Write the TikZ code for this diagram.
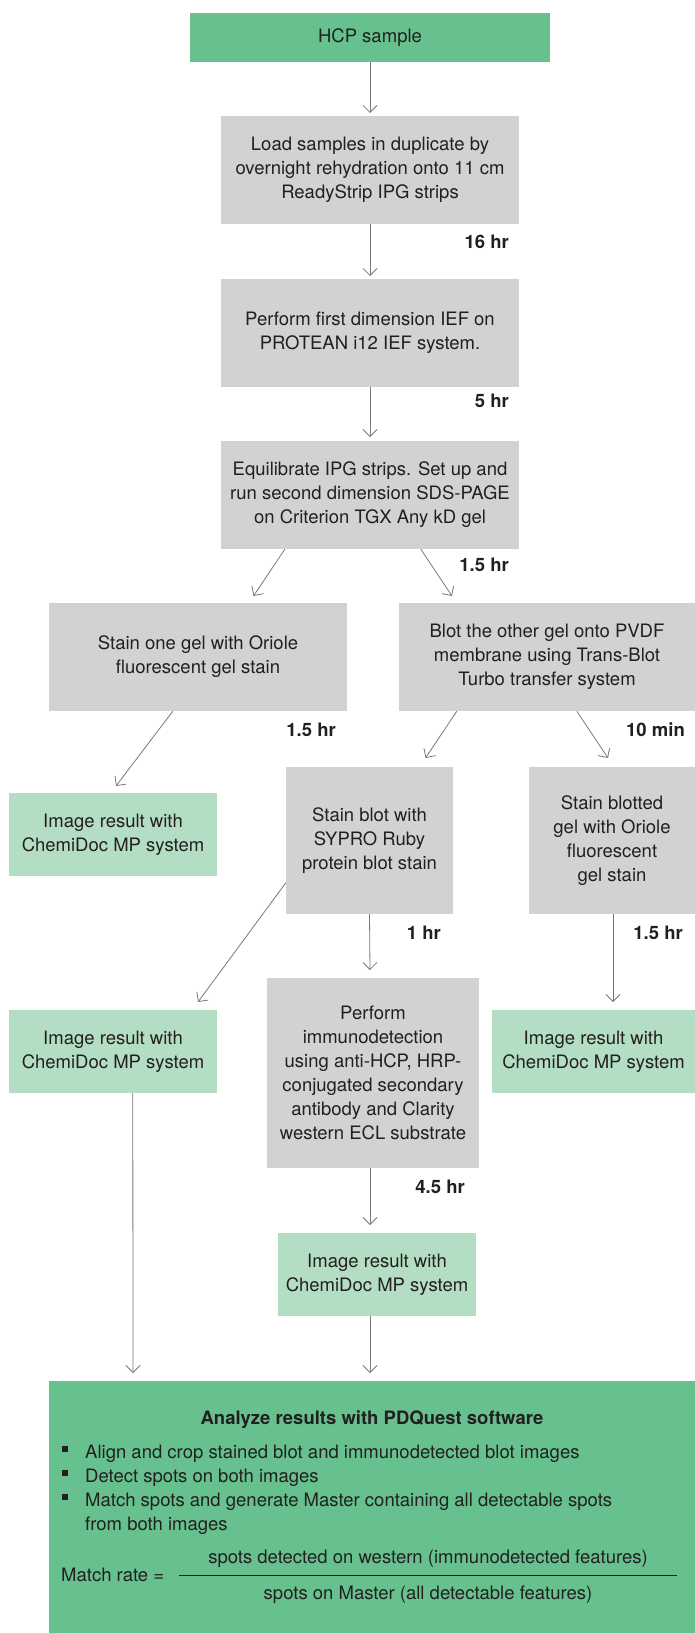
\documentclass[tikz,border=0pt]{standalone}
\usepackage{fontspec}
\setmainfont{TeX Gyre Heros}
\usetikzlibrary{arrows.meta,calc}
\definecolor{dgreen}{RGB}{102,193,142}
\definecolor{lgreen}{RGB}{179,222,195}
\definecolor{boxgray}{RGB}{209,210,212}
\definecolor{txt}{RGB}{35,31,32}
\definecolor{arrgray}{RGB}{120,120,120}
\begin{document}
\begin{tikzpicture}[x=1pt,y=-1pt,
  box/.style={rectangle, inner sep=0pt, align=center, text=txt, font=\fontsize{18.5}{24}\selectfont},
  gbox/.style={box, fill=boxgray},
  dgbox/.style={box, fill=dgreen},
  lgbox/.style={box, fill=lgreen},
  arr/.style={draw=arrgray, line width=0.8pt, -{Straight Barb[length=7pt,width=14pt]}},
  timelbl/.style={font=\bfseries\fontsize{18.5}{24}\selectfont, text=txt, anchor=base east, inner sep=0pt},
  plain/.style={font=\fontsize{18.5}{24}\selectfont, text=txt, inner sep=0pt}
]
\useasboundingbox (0,0) rectangle (695,1633);

% boxes
\node[dgbox, minimum width=360pt, minimum height=49pt] (hcp) at (370,37.5) {HCP sample};
\node[gbox, minimum width=298pt, minimum height=108pt] (load) at (370,170) {Load samples in duplicate by\\overnight rehydration onto 11 cm\\ReadyStrip IPG strips};
\node[gbox, minimum width=298pt, minimum height=108pt] (ief) at (370,333) {Perform first dimension IEF on\\PROTEAN i12 IEF system.};
\node[gbox, minimum width=298pt, minimum height=108pt] (eq) at (370,495) {Equilibrate IPG strips. Set up and\\run second dimension SDS-PAGE\\on Criterion TGX Any kD gel};
\node[gbox, minimum width=298pt, minimum height=108pt] (stain1) at (198,657) {Stain one gel with Oriole\\fluorescent gel stain};
\node[gbox, minimum width=296pt, minimum height=108pt] (blot) at (547,657) {Blot the other gel onto PVDF\\membrane using Trans-Blot\\Turbo transfer system};
\node[lgbox, minimum width=208pt, minimum height=83pt] (img1) at (113,834.5) {Image result with\\ChemiDoc MP system};
\node[gbox, minimum width=167pt, minimum height=147pt] (sblot) at (369.5,840.5) {Stain blot with\\SYPRO Ruby\\protein blot stain};
\node[gbox, minimum width=166pt, minimum height=147pt] (sblotted) at (612,840.5) {Stain blotted\\gel with Oriole\\fluorescent\\gel stain};
\node[lgbox, minimum width=208pt, minimum height=83pt] (img2) at (113,1051.5) {Image result with\\ChemiDoc MP system};
\node[gbox, minimum width=212pt, minimum height=190pt] (immuno) at (373,1073) {Perform\\immunodetection\\using anti-HCP, HRP-\\conjugated secondary\\antibody and Clarity\\western ECL substrate};
\node[lgbox, minimum width=203pt, minimum height=83pt] (img3) at (593.5,1051.5) {Image result with\\ChemiDoc MP system};
\node[lgbox, minimum width=198pt, minimum height=83pt] (img4) at (377,1274.5) {Image result with\\ChemiDoc MP system};
\node[dgbox, minimum width=646pt, minimum height=252pt] (ana) at (372,1507) {};

% arrow tips
\coordinate (t1) at (370,113);
\coordinate (t2) at (370,276);
\coordinate (t3) at (370,437);
\coordinate (t4) at (253.5,596);
\coordinate (t5) at (452,596);
\coordinate (t6) at (116,786);
\coordinate (t7) at (425.5,758);
\coordinate (t8) at (608,758);
\coordinate (t9) at (198,1002);
\coordinate (t10) at (370,970);
\coordinate (t11) at (613,1002);
\coordinate (t12) at (133,1373);
\coordinate (t13) at (370,1225);
\coordinate (t14) at (370,1373);

% connectors
\draw[arr] (hcp.south) -- (t1);
\draw[arr] (load.south) -- (t2);
\draw[arr] (ief.south) -- (t3);
\draw[arr] ($(eq.south west)+(64,0)$) -- (t4);
\draw[arr] ($(eq.south west)+(200,0)$) -- (t5);
\draw[arr] ($(stain1.south west)+(124,0)$) -- (t6);
\draw[arr] ($(blot.south west)+(58,0)$) -- (t7);
\draw[arr] ($(blot.south west)+(178,0)$) -- (t8);
\draw[arr] ($(sblot.north west)+(0,116)$) -- (t9);
\draw[arr] (sblot.south) -- (t10);
\draw[arr] ($(sblotted.south)+(1,0)$) -- (t11);
\draw[arr] ($(img2.south west)+(124,0)$) -- (t12);
\draw[arr] ($(immuno.south)+(-3,0)$) -- (t13);
\draw[arr] ($(img4.south)+(-7,0)$) -- (t14);

% time labels
\node[timelbl] (l1) at (509,248) {16 hr};
\node[timelbl] (l2) at (509,407) {5 hr};
\node[timelbl] (l3) at (509,571) {1.5 hr};
\node[timelbl] (l4) at (336,736) {1.5 hr};
\node[timelbl] (l5) at (685,736) {10 min};
\node[timelbl] (l6) at (441,939) {1 hr};
\node[timelbl] (l7) at (683,939) {1.5 hr};
\node[timelbl] (l8) at (465,1193) {4.5 hr};

% analyze content
\node[plain, font=\bfseries\fontsize{18.5}{24}\selectfont, anchor=base] (title) at (372,1424) {Analyze results with PDQuest software};
\fill[txt] (62,1446) rectangle (68,1452);
\fill[txt] (62,1470) rectangle (68,1476);
\fill[txt] (62,1494) rectangle (68,1500);
\node[plain, anchor=base west] (b1) at (85,1458) {Align and crop stained blot and immunodetected blot images};
\node[plain, anchor=base west] (b2) at (85,1482) {Detect spots on both images};
\node[plain, anchor=base west] (b3) at (85,1506) {Match spots and generate Master containing all detectable spots};
\node[plain, anchor=base west] (b4) at (85,1530) {from both images};
\node[plain, anchor=base west] (mr) at (61,1581) {Match rate =};
\coordinate (fl) at (179,1575);
\coordinate (fr) at (677,1575);
\draw[txt, line width=1pt] (fl) -- (fr);
\node[plain, anchor=base] (num) at (428,1563) {spots detected on western (immunodetected features)};
\node[plain, anchor=base] (den) at (428,1599) {spots on Master (all detectable features)};
\end{tikzpicture}
\end{document}
